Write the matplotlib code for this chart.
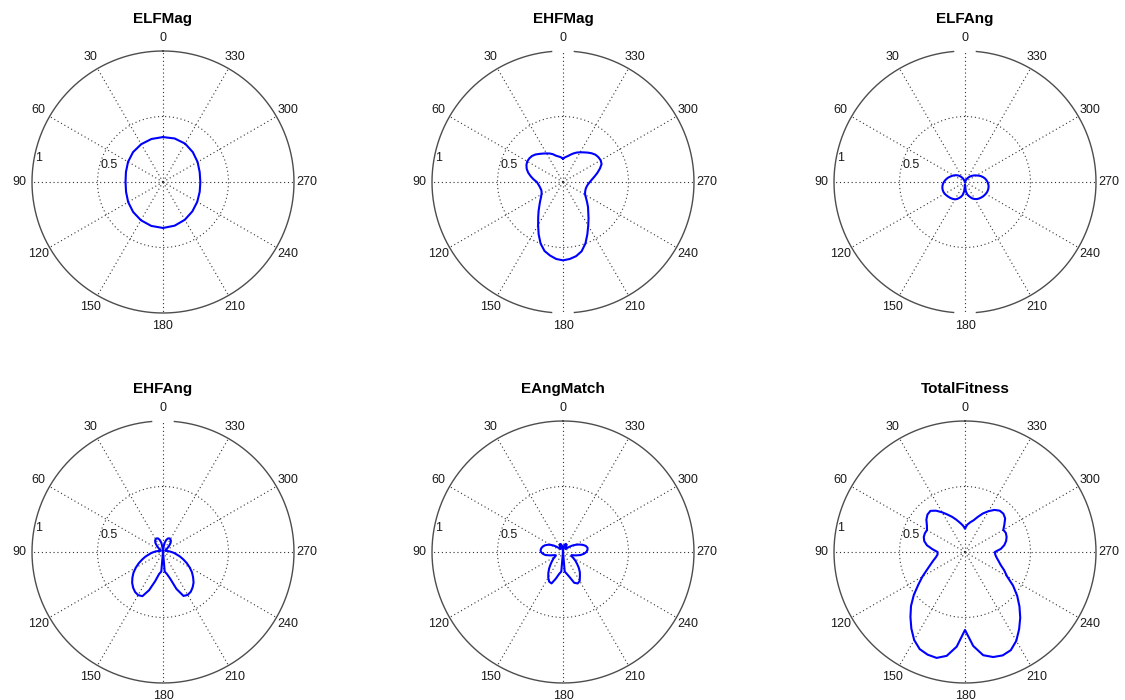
import numpy as np
import matplotlib
matplotlib.use("Agg")
import matplotlib.pyplot as plt

plt.rcParams['font.family'] = ['Liberation Sans', 'DejaVu Sans']

# ---- data: radiation-pattern magnitudes sampled around the compass (degrees) ----
titles = ["ELFMag", "EHFMag", "ELFAng", "EHFAng", "EAngMatch", "TotalFitness"]

elf_mag_deg = np.arange(0, 360, 15)
elf_mag = [0.343, 0.340, 0.333, 0.323, 0.308, 0.293, 0.286, 0.292,
           0.307, 0.323, 0.337, 0.347, 0.351, 0.345, 0.333, 0.317,
           0.302, 0.290, 0.285, 0.290, 0.305, 0.322, 0.338, 0.344]

ehf_mag_deg = np.arange(0, 360, 5)
ehf_mag = [0.178, 0.190, 0.198, 0.208, 0.226, 0.240, 0.252, 0.265, 0.280,
           0.297, 0.309, 0.314, 0.315, 0.308, 0.295, 0.275, 0.250, 0.225,
           0.200, 0.190, 0.183, 0.179, 0.177, 0.180, 0.190, 0.205, 0.228,
           0.255, 0.290, 0.330, 0.380, 0.440, 0.500, 0.545, 0.570, 0.590,
           0.598, 0.590, 0.575, 0.548, 0.500, 0.440, 0.385, 0.340, 0.300,
           0.270, 0.240, 0.215, 0.195, 0.186, 0.182, 0.181, 0.185, 0.192,
           0.205, 0.222, 0.245, 0.272, 0.300, 0.325, 0.332, 0.330, 0.324,
           0.310, 0.293, 0.276, 0.262, 0.248, 0.232, 0.215, 0.200, 0.190]

elf_ang_deg = np.arange(0, 360, 5)
elf_ang = [0.000, 0.000, 0.000, 0.000, 0.005, 0.015, 0.030, 0.045, 0.057,
           0.069, 0.080, 0.090, 0.100, 0.110, 0.120, 0.132, 0.142, 0.152,
           0.161, 0.169, 0.175, 0.179, 0.181, 0.181, 0.179, 0.175, 0.171,
           0.167, 0.163, 0.158, 0.153, 0.143, 0.130, 0.117, 0.100, 0.070,
           0.020, 0.070, 0.095, 0.110, 0.125, 0.140, 0.150, 0.159, 0.165,
           0.170, 0.175, 0.179, 0.182, 0.185, 0.186, 0.185, 0.183, 0.178,
           0.172, 0.164, 0.155, 0.143, 0.130, 0.115, 0.100, 0.088, 0.075,
           0.063, 0.050, 0.038, 0.025, 0.012, 0.003, 0.000, 0.000, 0.000]

ehf_ang_deg = np.arange(0, 360, 5)
ehf_ang = [0.000, 0.030, 0.070, 0.095, 0.110, 0.115, 0.112, 0.105, 0.090,
           0.065, 0.040, 0.025, 0.020, 0.020, 0.025, 0.030, 0.040, 0.055,
           0.070, 0.090, 0.110, 0.140, 0.170, 0.205, 0.240, 0.275, 0.305,
           0.333, 0.355, 0.372, 0.380, 0.372, 0.310, 0.230, 0.170, 0.150,
           0.000, 0.150, 0.170, 0.210, 0.300, 0.370, 0.378, 0.370, 0.352,
           0.330, 0.300, 0.270, 0.235, 0.200, 0.165, 0.135, 0.105, 0.085,
           0.065, 0.050, 0.040, 0.030, 0.025, 0.020, 0.020, 0.025, 0.040,
           0.065, 0.090, 0.105, 0.112, 0.115, 0.110, 0.095, 0.070, 0.030]

ang_match_deg = np.arange(0, 360, 5)
ang_match = [0.000, 0.030, 0.050, 0.062, 0.065, 0.060, 0.045, 0.030, 0.030,
             0.040, 0.060, 0.085, 0.110, 0.130, 0.148, 0.160, 0.168, 0.172,
             0.168, 0.155, 0.135, 0.100, 0.070, 0.060, 0.070, 0.090, 0.110,
             0.135, 0.165, 0.195, 0.225, 0.250, 0.255, 0.210, 0.170, 0.150,
             0.000, 0.150, 0.170, 0.200, 0.250, 0.265, 0.255, 0.225, 0.200,
             0.170, 0.140, 0.115, 0.090, 0.070, 0.070, 0.100, 0.135, 0.160,
             0.178, 0.188, 0.190, 0.180, 0.160, 0.135, 0.110, 0.085, 0.060,
             0.040, 0.030, 0.035, 0.050, 0.062, 0.066, 0.060, 0.045, 0.025]

total_fit_deg = np.arange(0, 360, 5)
total_fit = [0.181, 0.205, 0.228, 0.255, 0.285, 0.315, 0.350, 0.385, 0.410,
             0.405, 0.385, 0.355, 0.335, 0.338, 0.335, 0.322, 0.295, 0.250,
             0.210, 0.210, 0.225, 0.250, 0.280, 0.320, 0.375, 0.435, 0.510,
             0.583, 0.648, 0.714, 0.776, 0.818, 0.834, 0.837, 0.805, 0.725,
             0.595, 0.720, 0.800, 0.830, 0.840, 0.827, 0.783, 0.720, 0.656,
             0.588, 0.520, 0.448, 0.370, 0.330, 0.290, 0.265, 0.245, 0.232,
             0.228, 0.275, 0.305, 0.325, 0.338, 0.344, 0.338, 0.367, 0.400,
             0.414, 0.412, 0.392, 0.360, 0.325, 0.285, 0.250, 0.230, 0.210]

series = [
    (elf_mag_deg, elf_mag),
    (ehf_mag_deg, ehf_mag),
    (elf_ang_deg, elf_ang),
    (ehf_ang_deg, ehf_ang),
    (ang_match_deg, ang_match),
    (total_fit_deg, total_fit),
]

angle_ticks = list(range(0, 360, 30))
angle_labels = [str(a) for a in angle_ticks]
rtick_values = [0.5, 1.0]
rtick_labels = ["0.5", "1"]

# rim is interrupted behind the "0" / "180" labels on some panels
rim_gaps = [[], [0, 180], [0, 180], [0], [], []]

# ---- layout (pixels) ----
W, H = 1125, 700
col_cx = [163, 563, 965]
row_cy = [182, 552]
R = 131

fig = plt.figure(figsize=(W / 100, H / 100), dpi=100, facecolor="white")

for i, (title, (deg, vals)) in enumerate(zip(titles, series)):
    row, col = divmod(i, 3)
    cx, cy = col_cx[col], row_cy[row]
    ax = fig.add_axes([(cx - R) / W, (H - cy - R) / H, 2 * R / W, 2 * R / H],
                      projection="polar")
    ax.set_theta_zero_location("N")
    ax.set_theta_direction(1)
    ax.set_ylim(0, 1)
    ax.set_xticks(np.deg2rad(angle_ticks))
    ax.set_xticklabels([])
    ax.set_yticks([0.5])
    ax.set_yticklabels([])
    ax.tick_params(length=0)
    ax.grid(True, linestyle=(0, (1, 2.5)), color="0.2", linewidth=0.8)
    ax.spines["polar"].set_visible(False)

    # outer rim, drawn as arcs so that label gaps can be left open
    half_gap = 4.5
    rim = np.arange(0, 360.01, 0.5)
    keep = np.ones_like(rim, dtype=bool)
    for g in rim_gaps[i]:
        d = np.abs((rim - g + 180) % 360 - 180)
        keep &= d > half_gap
    rim_r = np.where(keep, 1.0, np.nan)
    ax.plot(np.deg2rad(rim), rim_r, color="0.3", linewidth=1.0, clip_on=False)

    # angle labels just outside the rim
    for a, lab in zip(angle_ticks, angle_labels):
        ax.text(np.deg2rad(a), 1.1, lab, ha="center", va="center",
                fontsize=9, color="0.1", clip_on=False)
    # radial labels on the left side
    for rv, lab, a in zip(rtick_values, rtick_labels, [72, 79]):
        rr = 0.43 if rv < 1 else 0.97
        ax.text(np.deg2rad(a), rr, lab, ha="center", va="center",
                fontsize=9, color="0.1", clip_on=False)

    th = np.deg2rad(np.append(deg, deg[0]))
    rv_ = np.append(vals, vals[0])
    ax.plot(th, rv_, color="blue", linewidth=1.5)

    fig.text(cx / W, 1 - (cy - 163) / H, title, ha="center", va="center",
             fontsize=11, fontweight="bold")

fig.savefig("out.png", dpi=100, facecolor="white")
